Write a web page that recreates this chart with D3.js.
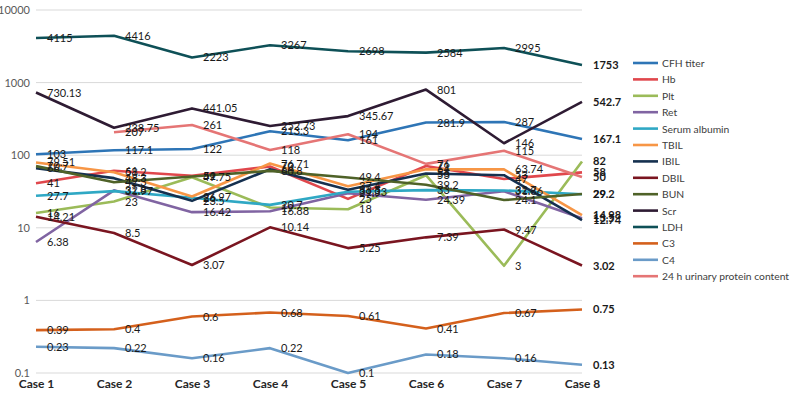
<!DOCTYPE html>
<html><head><meta charset="utf-8">
<script src="https://cdn.jsdelivr.net/npm/d3@7"></script>
<style>body{margin:0;background:#fff}svg{display:block}</style>
</head><body>
<svg id="c" width="790" height="395"></svg>
<script>
const cases = ["Case 1","Case 2","Case 3","Case 4","Case 5","Case 6","Case 7","Case 8"];
const yTicks = [0.1, 1, 10, 100, 1000, 10000];
const seriesNames = ["CFH titer","Hb","Plt","Ret","Serum albumin","TBIL","IBIL","DBIL","BUN","Scr","LDH","C3","C4","24 h urinary protein content"];
const seriesColors = ["#2E75B6","#E0474C","#9BBB59","#8064A2","#2FA8C4","#F79646","#15304F","#7A1520","#4F6228","#2E1B33","#0E5057","#D4601C","#6A9BC8","#E57575"];
const cfh = [103, 117.1, 122, 213.3, 161, 281.9, 287, 167.1];
const hb = [41, 61, 52, 70, 25, 71, 47, 58];
const plt = [16, 23, 49.75, 19, 18, 53, 3, 82];
const ret = [6.38, 32.8, 16.42, 16.88, 29.9, 24.39, 31.86, 13.5];
const albumin = [27.7, 31.97, 26, 20.7, 31.33, 33, 32.7, 29];
const tbil = [79.51, 58.2, 26.97, 76.71, 37.4, 64, 63.74, 14.98];
const ibil = [66, 48.3, 23.5, 64, 33.5, 56, 53, 12.74];
const dbil = [14.21, 8.5, 3.07, 10.14, 5.25, 7.39, 9.47, 3.02];
const bun = [70.7, 42.3, 51, 60.8, 49.4, 39.2, 24.1, 29.2];
const scr = [730.13, 238.75, 441.05, 252.73, 345.67, 801, 146, 542.7];
const ldh = [4115, 4416, 2223, 3267, 2698, 2584, 2995, 1753];
const c3 = [0.39, 0.4, 0.6, 0.68, 0.61, 0.41, 0.67, 0.75];
const c4 = [0.23, 0.22, 0.16, 0.22, 0.1, 0.18, 0.16, 0.13];
const urine = [null, 207, 261, 118, 194, 76, 115, 50];
const seriesValues = [cfh, hb, plt, ret, albumin, tbil, ibil, dbil, bun, scr, ldh, c3, c4, urine];

const FONT = "Lato, 'Open Sans', sans-serif";
const svg = d3.select("#c");
const x = d3.scalePoint().domain(cases).range([36, 582]);
const y = d3.scaleLog().domain([0.1, 10000]).range([373, 10]);

// grid
svg.append("g").selectAll("line").data(yTicks).join("line")
  .attr("x1", 36).attr("x2", 582)
  .attr("y1", d => y(d)).attr("y2", d => y(d))
  .attr("stroke", "#d9d9d9").attr("stroke-width", 1);

// y axis
const yAxis = d3.axisLeft(y).tickValues(yTicks).tickFormat(d3.format("")).tickSize(0).tickPadding(6);
const ya = svg.append("g").attr("transform", "translate(36,0)").call(yAxis);
ya.select(".domain").remove();
ya.selectAll("text").attr("font-family", FONT).attr("font-size", 11).attr("fill", "#595959");

// x axis
const xAxis = d3.axisBottom(x).tickSize(0).tickPadding(0);
const xa = svg.append("g").attr("transform", "translate(0,379)").call(xAxis);
xa.select(".domain").remove();
xa.selectAll("text").attr("font-family", FONT).attr("font-size", 12).attr("font-weight", "bold").attr("fill", "#262626");

const series = seriesNames.map((n, i) => ({name: n, color: seriesColors[i], values: seriesValues[i]}));
const line = d3.line().defined(d => d != null).x((d, i) => x(cases[i])).y(d => y(d));

svg.append("g").selectAll("path").data(series).join("path")
  .attr("d", s => line(s.values))
  .attr("fill", "none").attr("stroke", s => s.color).attr("stroke-width", 2.6)
  .attr("stroke-linejoin", "round");

// labels
const lg = svg.append("g").attr("font-family", FONT).attr("font-size", 11).attr("fill", "#1a1a1a");
series.forEach(s => {
  s.values.forEach((v, i) => {
    if (v == null) return;
    lg.append("text").attr("x", x(cases[i]) + 11).attr("y", y(v) + 4)
      .attr("font-weight", i === 7 ? "bold" : "normal")
      .text(v);
  });
});

// legend
const leg = svg.append("g").attr("font-family", FONT).attr("font-size", 10.3).attr("fill", "#404040");
series.forEach((s, i) => {
  const yy = 63 + i * 16.4;
  leg.append("line").attr("x1", 633).attr("x2", 658).attr("y1", yy).attr("y2", yy)
    .attr("stroke", s.color).attr("stroke-width", 2.6);
  leg.append("text").attr("x", 662).attr("y", yy + 4).text(s.name);
});
</script>
</body></html>
